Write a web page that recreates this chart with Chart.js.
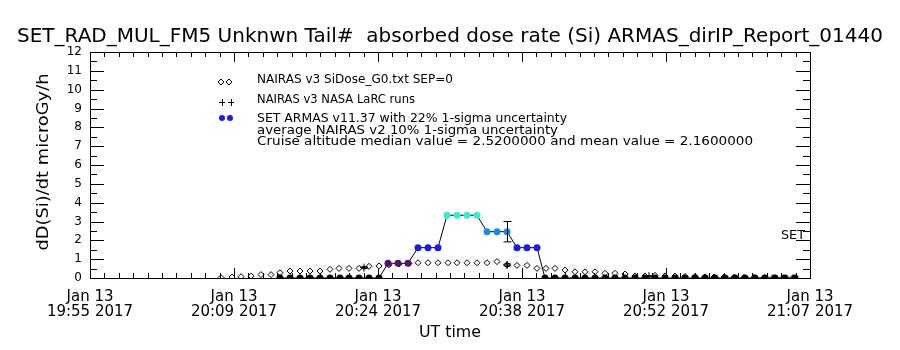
<!DOCTYPE html>
<html>
<head>
<meta charset="utf-8">
<script src="https://cdn.jsdelivr.net/npm/chart.js@4.4.1/dist/chart.umd.min.js"></script>
<style>
  html, body { margin: 0; padding: 0; background: #fff; }
  #wrap { width: 900px; height: 350px; }
</style>
</head>
<body>
<div id="wrap"><canvas id="c"></canvas></div>
<script>
// minutes after 19:55 UT
const nairasT = [13.1, 14.2, 15.1, 16.1, 17.1, 18.1, 19.0, 20.0, 21.0, 22.0, 23.0, 24.0, 24.9, 25.9, 26.9,
  27.9, 28.9, 29.9, 30.9, 31.9, 32.8, 33.8, 34.8, 35.8, 36.7, 37.7, 38.7, 39.7, 40.7, 41.7, 42.7, 43.7,
  44.7, 45.6, 46.5, 47.5, 48.5, 49.5, 50.5, 51.5, 52.5, 53.5, 54.5, 55.5, 56.5, 57.5, 58.5, 59.5, 60.5,
  61.5, 62.4, 63.4, 64.4, 65.4, 66.4, 67.4, 68.3, 69.3, 70.3]
const nairasV = [0.02, 0.05, 0.07, 0.10, 0.18, 0.18, 0.28, 0.37, 0.37, 0.37, 0.37, 0.46, 0.51, 0.51, 0.51,
  0.62, 0.64, 0.70, 0.74, 0.78, 0.81, 0.81, 0.81, 0.81, 0.81, 0.81, 0.81, 0.81, 0.87, 0.70, 0.67, 0.67,
  0.51, 0.51, 0.51, 0.42, 0.33, 0.33, 0.33, 0.25, 0.25, 0.21, 0.11, 0.11, 0.14, 0.11, 0.10, 0.08, 0.08,
  0.06, 0.05, 0.05, 0.04, 0.03, 0.03, 0.02, 0.02, 0.02, 0.02]

const larcT = [27.4, 41.7, 55.9]
const larcV = [0.55, 0.69, 0.10]

const armasT = [19.0, 20.0, 21.0, 22.0, 23.0, 24.0, 25.0, 25.9, 26.9, 27.9, 28.9,
  29.8, 30.8, 31.8, 32.8, 33.8, 34.8, 35.7, 36.7, 37.7, 38.7, 39.7, 40.7, 41.7, 42.7, 43.7, 44.7,
  45.5, 46.5, 47.5, 48.5, 49.5, 50.5, 51.5, 52.5, 53.5, 54.5, 55.5, 56.5, 57.5, 58.5, 59.5, 60.5,
  61.5, 62.5, 63.5, 64.5, 65.5, 66.5, 67.5, 68.5, 69.5, 70.5]
const armasV = [0, 0, 0, 0, 0, 0, 0, 0, 0, 0, 0,
  0.78, 0.78, 0.78, 1.61, 1.61, 1.61, 3.33, 3.33, 3.33, 3.33, 2.46, 2.46, 2.46, 1.61, 1.61, 1.61,
  0, 0, 0, 0, 0, 0, 0, 0, 0, 0, 0, 0, 0, 0, 0, 0,
  0, 0, 0, 0, 0, 0, 0, 0, 0, 0]

// one ARMAS point carries its 22% error bar, LaRC runs carry 10%
const armasErrT = [41.7]
const armasErrV = [2.46]
const armasErrPct = 0.22
const larcErrPct = 0.10

const xTickVals = [0, 14.4, 28.8, 43.2, 57.6, 72]
const xTickLabels = [
  ['Jan 13', '19:55 2017'], ['Jan 13', '20:09 2017'], ['Jan 13', '20:24 2017'],
  ['Jan 13', '20:38 2017'], ['Jan 13', '20:52 2017'], ['Jan 13', '21:07 2017'],
]
const yTickVals = [0, 1, 2, 3, 4, 5, 6, 7, 8, 9, 10, 11, 12]

const FONT = '"DejaVu Sans", "Liberation Sans", sans-serif'

function armasColor(v) {
  if (v <= 0) return '#000000'
  if (v < 1) return '#4e1470'
  if (v < 2) return '#1c1ce6'
  if (v < 3) return '#1e8ae8'
  return '#34eed2'
}

function drawText(ctx, text, x, y, size, width, align, rot) {
  ctx.save()
  ctx.font = `${size}px ${FONT}`
  const w = ctx.measureText(text).width
  const sx = width ? width / w : 1
  ctx.translate(x, y)
  if (rot) ctx.rotate(rot)
  ctx.scale(sx, 1)
  ctx.textAlign = align || 'left'
  ctx.textBaseline = 'middle'
  ctx.fillStyle = '#000'
  ctx.fillText(text, 0, 0)
  ctx.restore()
}

const frameAndText = {
  id: 'frameAndText',
  afterDraw(chart) {
    const { ctx, chartArea: a, scales: { x, y } } = chart
    ctx.save()
    ctx.strokeStyle = '#000'
    ctx.lineWidth = 1

    // error bars
    const bar = (t, lo, hi, cap) => {
      const px = Math.round(x.getPixelForValue(t)) + 0.5
      const y1 = y.getPixelForValue(lo), y2 = y.getPixelForValue(hi)
      ctx.beginPath()
      ctx.moveTo(px, y1); ctx.lineTo(px, y2)
      ctx.moveTo(px - cap, y1); ctx.lineTo(px + cap, y1)
      ctx.moveTo(px - cap, y2); ctx.lineTo(px + cap, y2)
      ctx.stroke()
    }
    armasErrT.forEach((t, i) => bar(t, armasErrV[i] * (1 - armasErrPct), armasErrV[i] * (1 + armasErrPct), 4))
    larcT.forEach((t, i) => bar(t, larcV[i] * (1 - larcErrPct), larcV[i] * (1 + larcErrPct), 3))

    // frame
    ctx.strokeRect(a.left + 0.5, a.top + 0.5, a.right - a.left, a.bottom - a.top)

    // inward ticks
    ctx.beginPath()
    for (let i = 0; i < xTickVals.length; i++) {
      const px = Math.round(x.getPixelForValue(xTickVals[i])) + 0.5
      ctx.moveTo(px, a.bottom); ctx.lineTo(px, a.bottom - 10)
      ctx.moveTo(px, a.top); ctx.lineTo(px, a.top + 10)
      if (i < xTickVals.length - 1) {
        for (let j = 1; j < 10; j++) {
          const v = xTickVals[i] + (xTickVals[i + 1] - xTickVals[i]) * j / 10
          const mx = Math.round(x.getPixelForValue(v)) + 0.5
          ctx.moveTo(mx, a.bottom); ctx.lineTo(mx, a.bottom - 5)
          ctx.moveTo(mx, a.top); ctx.lineTo(mx, a.top + 5)
        }
      }
    }
    for (let i = 0; i < yTickVals.length; i++) {
      const py = Math.round(y.getPixelForValue(yTickVals[i])) + 0.5
      ctx.moveTo(a.left, py); ctx.lineTo(a.left + 14, py)
      ctx.moveTo(a.right, py); ctx.lineTo(a.right - 14, py)
      if (i < yTickVals.length - 1) {
        const my = Math.round(y.getPixelForValue(yTickVals[i] + 0.5)) + 0.5
        ctx.moveTo(a.left, my); ctx.lineTo(a.left + 7, my)
        ctx.moveTo(a.right, my); ctx.lineTo(a.right - 7, my)
      }
    }
    ctx.stroke()

    // legend markers
    ctx.fillStyle = '#fff'
    ;[221, 229].forEach(lx => {
      ctx.beginPath()
      ctx.moveTo(lx, 79); ctx.lineTo(lx + 3, 82); ctx.lineTo(lx, 85); ctx.lineTo(lx - 3, 82); ctx.closePath()
      ctx.fill(); ctx.stroke()
    })
    ctx.beginPath()
    ;[222, 231].forEach(lx => {
      ctx.moveTo(lx - 3, 102.5); ctx.lineTo(lx + 3, 102.5)
      ctx.moveTo(lx + 0.5, 99); ctx.lineTo(lx + 0.5, 106)
    })
    ctx.stroke()
    ctx.fillStyle = '#1c1ce6'
    ;[222, 230].forEach(lx => {
      ctx.beginPath(); ctx.arc(lx, 118, 3, 0, Math.PI * 2); ctx.fill()
    })

    // texts
    drawText(ctx, 'SET_RAD_MUL_FM5 Unknwn Tail#  absorbed dose rate (Si) ARMAS_dirIP_Report_01440', 450, 37, 19, 866, 'center')
    drawText(ctx, 'NAIRAS v3 SiDose_G0.txt SEP=0', 257, 80, 12, 196)
    drawText(ctx, 'NAIRAS v3 NASA LaRC runs', 257, 100, 12, 158)
    drawText(ctx, 'SET ARMAS v11.37 with 22% 1-sigma uncertainty', 257, 119, 12, 310)
    drawText(ctx, 'average NAIRAS v2 10% 1-sigma uncertainty', 257, 131, 12, 301)
    drawText(ctx, 'Cruise altitude median value = 2.5200000 and mean value = 2.1600000', 257, 142, 12, 496)
    drawText(ctx, 'SET', 781, 236, 12, 24)
    drawText(ctx, 'UT time', 450, 333, 15, 62, 'center')
    drawText(ctx, 'dD(Si)/dt microGy/h', 44, 162, 16, 177, 'center', -Math.PI / 2)
    ctx.restore()
  },
}

new Chart(document.getElementById('c'), {
  type: 'scatter',
  data: {
    datasets: [
      {
        label: 'ARMAS',
        data: armasT.map((t, i) => ({ x: t, y: armasV[i] })),
        showLine: true,
        borderColor: '#000',
        borderWidth: 1,
        pointStyle: 'circle',
        pointRadius: 3.5,
        pointBackgroundColor: armasV.map(armasColor),
        pointBorderColor: armasV.map(armasColor),
        pointBorderWidth: 0,
        order: 0,
      },
      {
        label: 'NAIRAS LaRC',
        data: larcT.map((t, i) => ({ x: t, y: larcV[i] })),
        pointStyle: 'cross',
        pointRadius: 4,
        borderColor: '#000',
        pointBorderWidth: 1,
        order: 1,
      },
      {
        label: 'NAIRAS SiDose',
        data: nairasT.map((t, i) => ({ x: t, y: nairasV[i] })),
        pointStyle: 'rectRot',
        pointRadius: 3,
        backgroundColor: '#fff',
        borderColor: '#000',
        pointBorderWidth: 1,
        order: 2,
      },
    ],
  },
  options: {
    responsive: true,
    maintainAspectRatio: false,
    animation: false,
    events: [],
    layout: { padding: { top: 52, right: 90, left: 0, bottom: 0 } },
    plugins: { legend: { display: false }, tooltip: { enabled: false } },
    scales: {
      x: {
        type: 'linear',
        min: 0,
        max: 72,
        grid: { display: false, drawTicks: false },
        border: { display: false },
        afterBuildTicks: s => { s.ticks = xTickVals.map(v => ({ value: v })) },
        afterFit: s => { s.height = 72 },
        ticks: {
          autoSkip: false,
          maxRotation: 0,
          padding: 12,
          color: '#000',
          font: { family: FONT, size: 15, lineHeight: 1 },
          callback: (v, i) => xTickLabels[i],
        },
      },
      y: {
        min: 0,
        max: 12,
        grid: { display: false, drawTicks: false },
        border: { display: false },
        afterBuildTicks: s => { s.ticks = yTickVals.map(v => ({ value: v })) },
        afterFit: s => { s.width = 90 },
        ticks: {
          padding: 8,
          color: '#000',
          font: { family: FONT, size: 12 },
        },
      },
    },
  },
  plugins: [frameAndText],
})
</script>
</body>
</html>
